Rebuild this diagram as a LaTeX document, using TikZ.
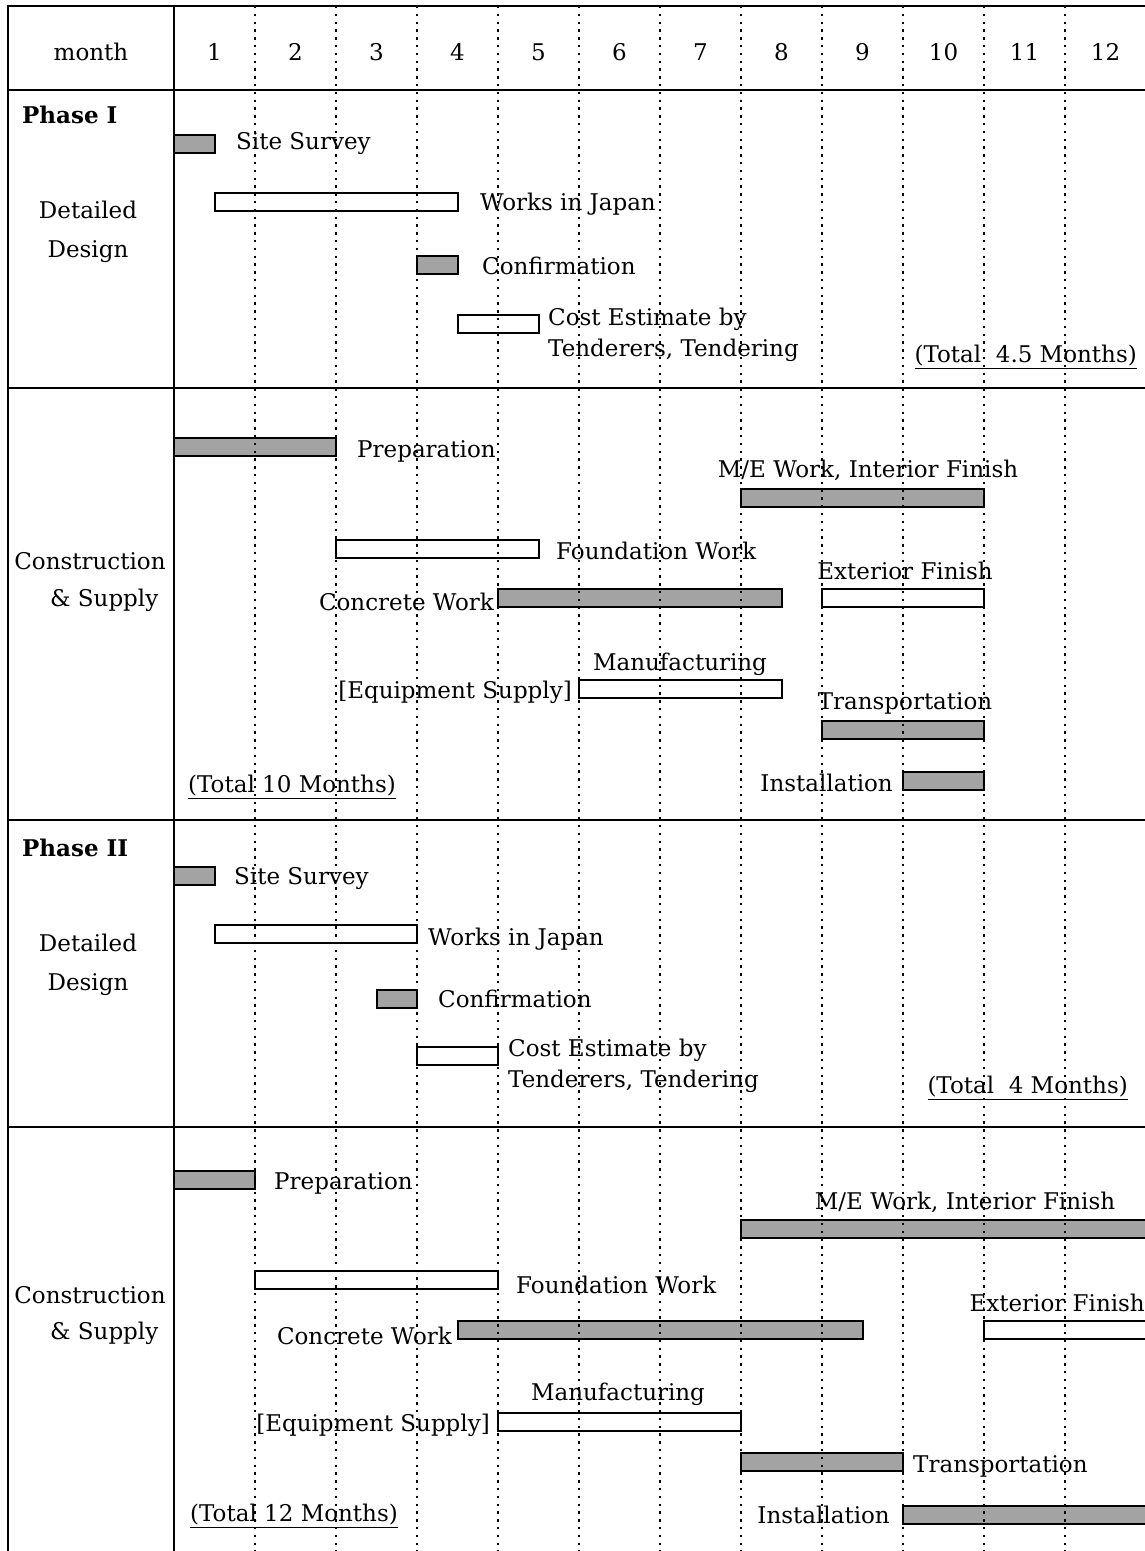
\documentclass[tikz,border=0pt]{standalone}
\usepackage{fontspec}
\setmainfont{DejaVu Serif}
\begin{document}
\begin{tikzpicture}[x=1pt,y=-1pt,
  txt/.style={inner sep=0pt,font=\fontsize{23}{27}\selectfont},
  frame/.style={line width=2.6pt},
  rowline/.style={line width=2pt},
  monthgrid/.style={line width=2.3pt,dash pattern=on 2.3pt off 5.5pt},
  shadedbar/.style={draw=black,line width=2pt,fill=black!36},
  whitebar/.style={draw=black,line width=2pt,fill=white}]
\useasboundingbox (0,0) rectangle (1145,1551);
\fill[white] (0,0) rectangle (1145,1551);
\newcommand\ganttbar[4]{\path[#4] ({174+#1*81},{#3-9}) rectangle ({174+#2*81},{#3+9});}
% frame
\draw[frame] (8,1551) -- (8,6) -- (1145,6);
\draw[frame] (174,6) -- (174,1551);
\draw[rowline] (8,90) -- (1145,90);
\draw[rowline] (8,388) -- (1145,388);
\draw[rowline] (8,820) -- (1145,820);
\draw[rowline] (8,1127) -- (1145,1127);
% header
\node[txt] (hmonth) at (91,52) {month};
\foreach \m in {1,...,12} {\node[txt] (h\m) at ({174+(\m-0.5)*81},52) {\m};}
% Phase I detailed design
\node[txt,anchor=west] (ph1) at (22,115) {\bfseries Phase I};
\node[txt,align=center] (dd1) at (88,232) {Detailed\\[12pt]Design};
\ganttbar{0}{0.5}{144}{shadedbar}
\node[txt,anchor=west] (ss1) at (236,144) {Site Survey};
\ganttbar{0.5}{3.5}{202}{whitebar}
\node[txt,anchor=west] (wj1) at (480,204) {Works in Japan};
\ganttbar{3}{3.5}{265}{shadedbar}
\node[txt,anchor=west] (cf1) at (482,266) {Confirmation};
\ganttbar{3.5}{4.5}{324}{whitebar}
\node[txt,anchor=west,align=left] (ce1) at (548,335) {Cost Estimate by\\[4pt]Tenderers, Tendering};
\node[txt,anchor=east] (tot1) at (1137,357) {\underline{(Total\ \ 4.5 Months)}};
% Phase I construction
\node[txt] (cs1a) at (90,561) {Construction};
\node[txt,anchor=west] (cs1b) at (50,600) {\& Supply};
\ganttbar{0}{2}{447}{shadedbar}
\node[txt,anchor=west] (prep1) at (357,451) {Preparation};
\node[txt] (me1) at (868,470) {M/E Work, Interior Finish};
\ganttbar{7}{10}{498}{shadedbar}
\ganttbar{2}{4.5}{549}{whitebar}
\node[txt,anchor=west] (fw1) at (556,551) {Foundation Work};
\node[txt] (ef1) at (905,571) {Exterior Finish};
\ganttbar{8}{10}{598}{whitebar}
\node[txt,anchor=east] (cw1) at (494,602) {Concrete Work};
\ganttbar{4}{7.5}{598}{shadedbar}
\node[txt] (mf1) at (680,664) {Manufacturing};
\ganttbar{5}{7.5}{689}{whitebar}
\node[txt,anchor=east] (es1) at (572,692) {[Equipment Supply]};
\node[txt] (tr1) at (905,703) {Transportation};
\ganttbar{8}{10}{730}{shadedbar}
\node[txt,anchor=east] (in1) at (893,783) {Installation};
\ganttbar{9}{10}{781}{shadedbar}
\node[txt,anchor=west] (tot10) at (188,787) {\underline{(Total 10 Months)}};
% Phase II detailed design
\node[txt,anchor=west] (ph2) at (22,848) {\bfseries Phase II};
\node[txt,align=center] (dd2) at (88,965) {Detailed\\[12pt]Design};
\ganttbar{0}{0.5}{876}{shadedbar}
\node[txt,anchor=west] (ss2) at (234,879) {Site Survey};
\ganttbar{0.5}{3}{934}{whitebar}
\node[txt,anchor=west] (wj2) at (428,939) {Works in Japan};
\ganttbar{2.5}{3}{999}{shadedbar}
\node[txt,anchor=west] (cf2) at (438,999) {Confirmation};
\ganttbar{3}{4}{1056}{whitebar}
\node[txt,anchor=west,align=left] (ce2) at (508,1066) {Cost Estimate by\\[4pt]Tenderers, Tendering};
\node[txt,anchor=east] (tot4) at (1128,1088) {\underline{(Total\ \ 4 Months)}};
% Phase II construction
\node[txt] (cs2a) at (90,1295) {Construction};
\node[txt,anchor=west] (cs2b) at (50,1333) {\& Supply};
\ganttbar{0}{1}{1180}{shadedbar}
\node[txt,anchor=west] (prep2) at (274,1183) {Preparation};
\node[txt] (me2) at (965,1202) {M/E Work, Interior Finish};
\ganttbar{7}{12.2}{1229}{shadedbar}
\ganttbar{1}{4}{1280}{whitebar}
\node[txt,anchor=west] (fw2) at (516,1285) {Foundation Work};
\node[txt,anchor=east] (ef2) at (1145,1303) {Exterior Finish};
\ganttbar{10}{12.2}{1330}{whitebar}
\node[txt,anchor=east] (cw2) at (452,1336) {Concrete Work};
\ganttbar{3.5}{8.5}{1330}{shadedbar}
\node[txt] (mf2) at (618,1394) {Manufacturing};
\ganttbar{4}{7}{1422}{whitebar}
\node[txt,anchor=east] (es2) at (490,1425) {[Equipment Supply]};
\ganttbar{7}{9}{1462}{shadedbar}
\node[txt,anchor=west] (tr2) at (913,1466) {Transportation};
\node[txt,anchor=east] (in2) at (890,1515) {Installation};
\ganttbar{9}{12.2}{1515}{shadedbar}
\node[txt,anchor=west] (tot12) at (190,1516) {\underline{(Total 12 Months)}};
% month grid
\foreach \k in {1,...,11} {\draw[monthgrid] ({174+\k*81},6) -- ({174+\k*81},1551);}
\end{tikzpicture}
\end{document}
